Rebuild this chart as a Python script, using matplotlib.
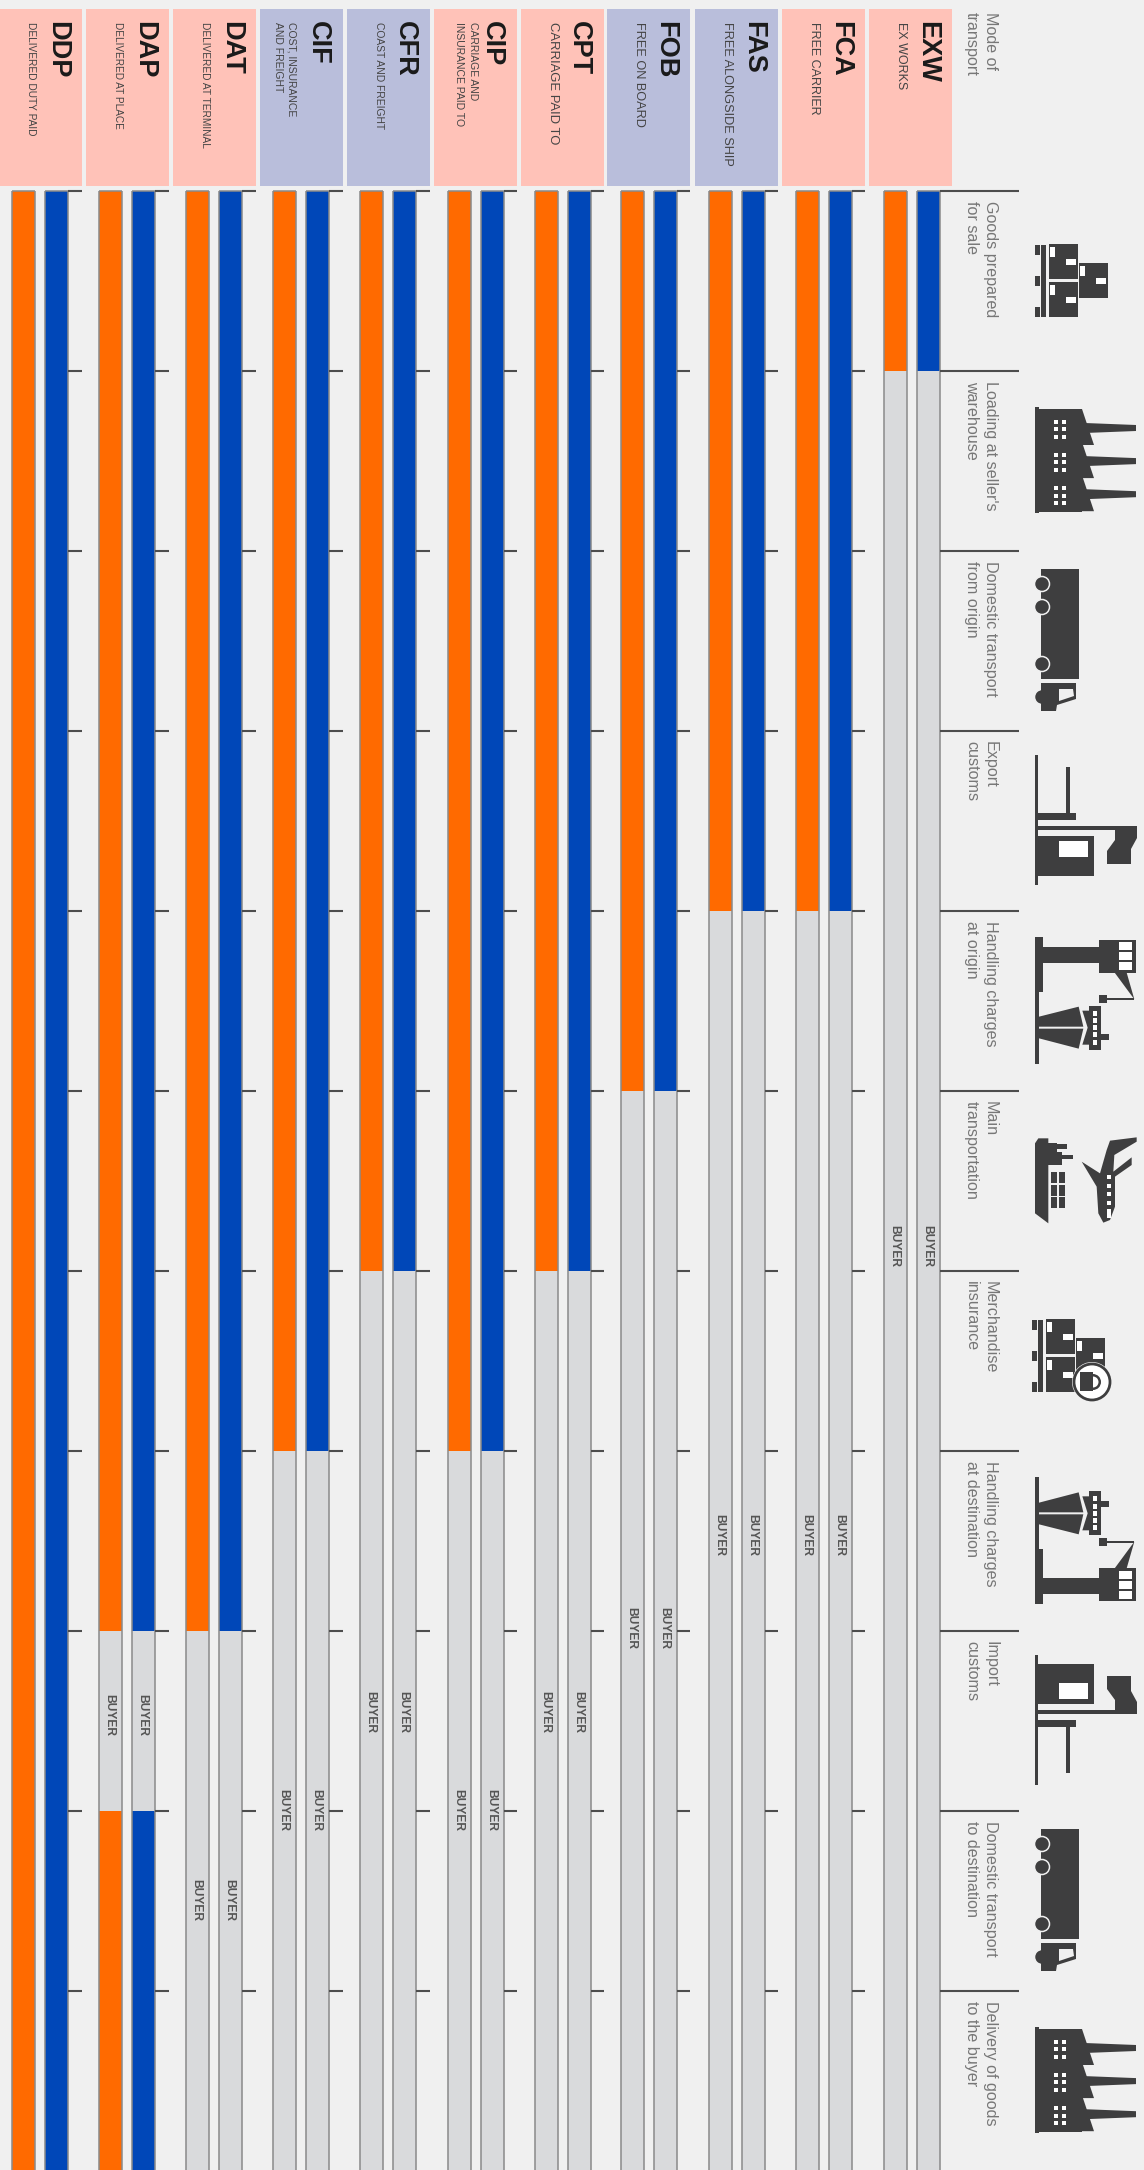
import matplotlib
matplotlib.use('Agg')
import matplotlib.pyplot as plt
from matplotlib.patches import Polygon, Rectangle, Circle, Wedge

# Incoterms, right to left as they sit on the page
terms = ['EXW', 'FCA', 'FAS', 'FOB', 'CPT', 'CIP', 'CFR', 'CIF', 'DAT', 'DAP', 'DDP']
descriptions = ['EX WORKS', 'FREE CARRIER', 'FREE ALONGSIDE SHIP', 'FREE ON BOARD',
                'CARRIAGE PAID TO', 'CARRIAGE AND\nINSURANCE PAID TO', 'COAST AND FREIGHT',
                'COST, INSURANCE\nAND FREIGHT', 'DELIVERED AT TERMINAL', 'DELIVERED AT PLACE',
                'DELIVERED DUTY PAID']
sea_only = [False, False, True, True, False, False, True, True, False, False, False]

steps = ['Goods prepared\nfor sale', "Loading at seller's\nwarehouse", 'Domestic transport\nfrom origin',
         'Export\ncustoms', 'Handling charges\nat origin', 'Main\ntransportation',
         'Merchandise\ninsurance', 'Handling charges\nat destination', 'Import\ncustoms',
         'Domestic transport\nto destination', 'Delivery of goods\nto the buyer']

# seller pays up to this step, buyer after it
seller_until = [1, 4, 4, 5, 6, 7, 6, 7, 8, 8, 11]
# DAP: seller takes over again after the import step
seller_again = [None, None, None, None, None, None, None, None, None, 9, None]

BG = '#f0f0f0'
DARK = '#3e3e3f'
ORANGE = '#ff6a00'
BLUE = '#0047b8'
GREY = '#d9dadc'
EDGE = '#8a8a8a'
PINK = '#ffc2b8'
LAVENDER = '#b9bedb'

# page layout, one entry per term
col_right = [952, 865, 778, 690, 604, 517, 430, 343, 256, 169, 82]
blue_right = [940, 852, 765, 677, 591, 504, 416, 329, 242, 155, 68]
desc_sizes = [9, 9, 9.2, 9.2, 9.4, 7.5, 7.4, 7.5, 7.3, 7.2, 7.3]
desc_offset = [51, 51, 51, 51, 51, 51, 51, 58, 51, 51, 51]
buyer_label_y = [1246, 1535, 1535, 1628, 1712, 1810, 1712, 1810, 1900, 1715, None]
TOP = 191
STEP = 180
BAR_W = 23

plt.rcParams['font.family'] = ['Liberation Sans', 'DejaVu Sans']

fig = plt.figure(figsize=(11.44, 21.70), dpi=100, facecolor=BG)
ax = fig.add_axes([0, 0, 1, 1])
ax.set_xlim(0, 1144)
ax.set_ylim(2170, 0)
ax.axis('off')


def draw_bar(x, until, again, color, label_y):
    # x is the left edge of the bar
    end = TOP + 11 * STEP
    ax.bar(x, until * STEP, BAR_W, bottom=TOP, align='edge', color=color, linewidth=0)
    if until < 11:
        stop = end if again is None else TOP + again * STEP
        ax.bar(x, stop - (TOP + until * STEP), BAR_W, bottom=TOP + until * STEP, align='edge',
               color=GREY, linewidth=0)
        ax.text(x + BAR_W / 2 - 1.5, label_y, 'BUYER', rotation=-90, ha='center', va='center',
                fontsize=8.7, fontweight='bold', color='#555555')
    if again is not None:
        ax.bar(x, end - (TOP + again * STEP), BAR_W, bottom=TOP + again * STEP, align='edge',
               color=color, linewidth=0)
    ax.vlines([x, x + BAR_W], TOP, end, color=EDGE, linewidth=1.1)
    ax.hlines(TOP, x, x + BAR_W, color=EDGE, linewidth=1.1)


for i, term in enumerate(terms):
    r = col_right[i]
    ax.add_patch(Rectangle((r - 83, 9), 83, 177, color=LAVENDER if sea_only[i] else PINK, linewidth=0))
    ax.text(r - 25, 21, term, rotation=-90, ha='center', va='top', fontsize=19.5,
            fontweight='bold', color='#1a1a1a')
    ax.text(r - desc_offset[i], 22, descriptions[i], rotation=-90, ha='center', va='top',
            multialignment='left', fontsize=desc_sizes[i], color='#444444', linespacing=1.4)

    b = blue_right[i]
    draw_bar(b - BAR_W, seller_until[i], seller_again[i], BLUE, buyer_label_y[i])
    draw_bar(b - BAR_W - 33, seller_until[i], seller_again[i], ORANGE, buyer_label_y[i])

    line_end = 1019 if term == 'EXW' else r
    ax.hlines([TOP + n * STEP for n in range(11)], b, line_end, color='#4d4d4d', linewidth=1.5)

# column of step labels
ax.text(981, 12, 'Mode of\ntransport', rotation=-90, ha='center', va='top', multialignment='left',
        fontsize=11.6, color='#777777', linespacing=1.35)
for n, step in enumerate(steps):
    ax.text(981, TOP + n * STEP + 10, step, rotation=-90, ha='center', va='top', multialignment='left',
            fontsize=11.6, color='#777777', linespacing=1.35)


# icons, all in page pixels relative to the top of their step
def box(x0, x1, y0, y1, color=DARK):
    ax.add_patch(Rectangle((x0, y0), x1 - x0, y1 - y0, facecolor=color, edgecolor='none'))


def poly(points, color=DARK):
    ax.add_patch(Polygon(points, closed=True, facecolor=color, edgecolor='none'))


def carton(x, y):
    box(x, x + 29, y, y + 35)
    box(x + 1, x + 6, y + 3, y + 13, 'white')
    box(x + 17, x + 27, y + 15, y + 21, 'white')


def pallet(x, y):
    for dy in (0, 31, 62):
        box(x, x + 5, y + dy, y + dy + 10)
    box(x + 6, x + 11, y, y + 72)
    carton(x + 14, y - 1)
    carton(x + 14, y + 37)
    carton(x + 44, y + 18)


def factory(y):
    box(1035, 1039, y, y + 106)
    box(1039, 1082, y + 2, y + 105)
    for k in range(3):
        o = y + k * 33.1
        poly([(1082, o + 2), (1094, o + 38), (1082, o + 38)])
        poly([(1085, o + 16), (1136, o + 18), (1136, o + 24), (1085, o + 26)])
        for row in range(3):
            for cx in (1054, 1062):
                box(cx, cx + 4, o + 13 + row * 7.3, o + 17 + row * 7.3, 'white')


def truck(y):
    box(1041, 1079, y, y + 110)
    for wy in (15, 38, 95, 128):
        ax.add_patch(Circle((1042, y + wy), 7.5, facecolor=DARK, edgecolor=BG, linewidth=1.1))
    poly([(1041, y + 114), (1076, y + 114), (1076, y + 130), (1057, y + 136), (1056, y + 142), (1041, y + 142)])
    poly([(1059, y + 120), (1073, y + 120), (1074, y + 127), (1059, y + 132)], BG)


def customs(top, flip):
    def fy(v):
        return top + (178 - v if flip else v)

    def fbox(x0, x1, y0, y1, color=DARK):
        box(x0, x1, min(fy(y0), fy(y1)), max(fy(y0), fy(y1)), color)

    fbox(1035, 1038, 24, 154)
    fbox(1038, 1094, 33, 73)
    fbox(1059, 1088, 52, 68, 'white')
    fbox(1038, 1117, 79, 83)
    poly([(1107, fy(45)), (1131, fy(45)), (1131, fy(60)), (1137, fy(71)), (1137, fy(83)),
          (1115, fy(83)), (1115, fy(69)), (1107, fy(58))])
    fbox(1038, 1076, 89, 96)
    fbox(1066, 1070, 96, 142)


def handling(top, flip):
    # traced on a 3x crop: px=1020+X/3, rel=9+Y/3
    def p(X, Y):
        rel = 9 + Y / 3
        return (1020 + X / 3, top + (179 - rel if flip else rel))

    def fbox(X0, X1, Y0, Y1, color=DARK):
        poly([p(X0, Y0), p(X1, Y0), p(X1, Y1), p(X0, Y1)], color)

    fbox(45, 57, 50, 432)
    fbox(45, 69, 50, 215)
    fbox(69, 237, 81, 129)
    fbox(237, 348, 60, 158)
    for Y in (66, 96, 126):
        fbox(297, 336, Y, Y + 24, 'white')
    poly([p(284, 158), p(320, 158), p(343, 238)])
    fbox(260, 343, 234, 240)
    fbox(237, 261, 225, 249)
    poly([p(57, 290), p(176, 260), p(190, 320), p(57, 320)])
    poly([p(57, 326), p(190, 326), p(176, 386), p(57, 355)])
    poly([p(187, 272), p(207, 272), p(207, 258), p(243, 258), p(243, 342), p(267, 342), p(267, 360),
          p(243, 360), p(243, 390), p(207, 390), p(207, 374), p(187, 374), p(203, 323)])
    for Y in (273, 294, 315, 336, 360):
        fbox(219, 231, Y, Y + 15, 'white')


def transport(top):
    # traced on a 3x crop: px=900+X/3, py=1000+Y/3
    def p(X, Y):
        return (900 + X / 3, 1000 + Y / 3 - 1091 + top)

    def fbox(X0, X1, Y0, Y1, color=DARK):
        poly([p(X0, Y0), p(X1, Y0), p(X1, Y1), p(X0, Y1)], color)

    poly([p(405, 430), p(415, 415), p(445, 415), p(445, 670), p(405, 640)])
    fbox(445, 470, 430, 495)
    fbox(470, 500, 432, 447)
    fbox(470, 485, 455, 495)
    fbox(485, 519, 465, 477)
    for Y0, Y1 in ((516, 548), (556, 588), (592, 624)):
        fbox(453, 470, Y0, Y1)
        fbox(477, 495, Y0, Y1)
    poly([p(710, 412), p(630, 422), p(620, 450), p(600, 520), p(545, 485), p(590, 560), p(595, 640),
          p(610, 668), p(630, 660), p(645, 620), p(645, 530), p(695, 495), p(695, 472), p(640, 515),
          p(643, 465), p(710, 425)])
    for Y in (525, 552, 575, 602):
        fbox(621, 632, Y, Y + 12, 'white')
    fbox(621, 632, 628, 655, 'white')


pallet(1035, TOP + 54)
factory(TOP + STEP + 36)
truck(TOP + 2 * STEP + 18)
customs(TOP + 3 * STEP, True)
handling(TOP + 4 * STEP, False)
transport(TOP + 5 * STEP)

# pallet with the padlock on it
pallet(1032, TOP + 6 * STEP + 49)
lock_x, lock_y = 1092, TOP + 6 * STEP + 111
ax.add_patch(Circle((lock_x, lock_y), 20, facecolor=BG, edgecolor='none'))
ax.add_patch(Circle((lock_x, lock_y), 18, facecolor='white', edgecolor=DARK, linewidth=2))
box(lock_x - 12, lock_x + 1, lock_y - 10, lock_y + 9)
ax.add_patch(Wedge((lock_x + 1, lock_y), 8, -90, 90, width=2.5, facecolor=DARK, edgecolor='none'))

handling(TOP + 7 * STEP, True)
customs(TOP + 8 * STEP, False)
truck(TOP + 9 * STEP + 18)
factory(TOP + 10 * STEP + 36)

plt.savefig('out.png', dpi=100, facecolor=BG)
